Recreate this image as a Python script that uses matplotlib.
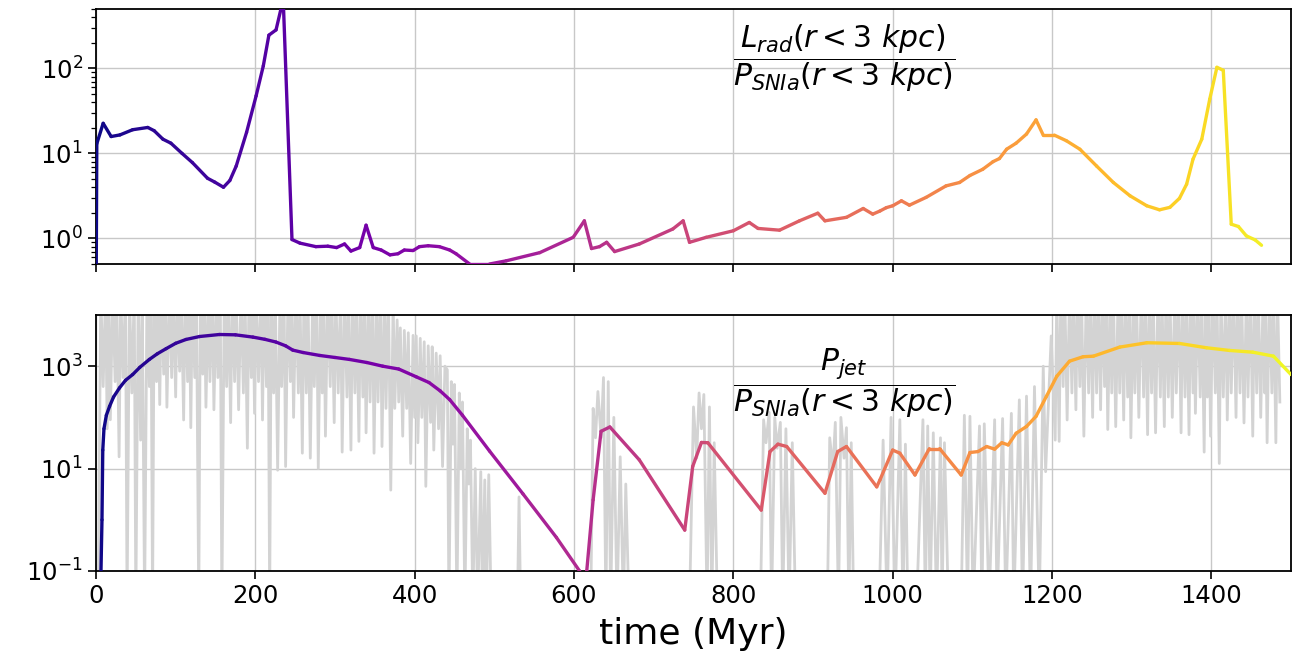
import numpy as np
import matplotlib
matplotlib.use("Agg")
import matplotlib.pyplot as plt
from matplotlib.collections import LineCollection
from matplotlib.colors import Normalize
from matplotlib.ticker import LogLocator, NullLocator, NullFormatter

# ---------------- data ----------------
# top panel: L_rad / P_SNIa (r<3 kpc)
top_t = [0, 1, 9, 19, 30, 46, 65, 73, 84, 94, 108, 121, 140, 149, 160, 168, 176, 189,
         201, 210, 217, 226, 235, 246, 256, 276, 291, 302, 312, 320, 331, 339, 348, 358,
         369, 379, 387, 398, 406, 417, 431, 444, 452, 469, 494, 515, 557, 599, 613, 622,
         632, 641, 651, 682, 724, 737, 745, 766, 800, 820, 831, 858, 883, 906, 915, 942,
         963, 975, 984, 992, 1000, 1011, 1021, 1042, 1067, 1084, 1097, 1113, 1126, 1134,
         1143, 1155, 1168, 1180, 1189, 1203, 1218, 1235, 1256, 1277, 1298, 1319, 1335,
         1348, 1360, 1369, 1377, 1388, 1398, 1407, 1415, 1425, 1434, 1444, 1455, 1463]
top_v = [0.1, 13, 22.6, 15.8, 16.5, 19, 20.2, 18.5, 14.7, 13.2, 10, 7.8, 5.1, 4.6, 4.0, 4.8,
         7.1, 17.7, 47.6, 107, 246, 284, 650, 0.97, 0.88, 0.80, 0.81, 0.78, 0.86, 0.71,
         0.78, 1.43, 0.78, 0.73, 0.64, 0.66, 0.73, 0.72, 0.80, 0.82, 0.80, 0.73, 0.66, 0.5,
         0.5, 0.545, 0.68, 1.03, 1.61, 0.76, 0.80, 0.90, 0.70, 0.86, 1.29, 1.61, 0.90, 1.03,
         1.23, 1.54, 1.31, 1.25, 1.61, 1.98, 1.61, 1.77, 2.25, 1.93, 2.1, 2.3, 2.42, 2.77,
         2.46, 3.04, 4.15, 4.55, 5.5, 6.5, 8.0, 8.7, 11.2, 13.2, 16.9, 24.8, 16.4, 16.4,
         14.1, 11.2, 7.1, 4.55, 3.17, 2.42, 2.17, 2.32, 2.96, 4.35, 8.56, 14.7, 43.5, 103,
         95, 1.47, 1.38, 1.07, 0.96, 0.83]

# bottom panel: P_jet / P_SNIa (smoothed, coloured)
bot_t = [5, 7.5, 8.5, 10, 13, 17, 22, 29.5, 37, 46, 55, 67, 77, 88, 100, 113, 130, 155,
         175, 197, 212, 226, 238, 247, 260, 281, 300, 318, 340, 360, 380, 402,
         418, 432, 444, 460, 494, 536, 578, 607, 612, 616, 624, 634, 645, 682, 739, 749,
         760, 768, 835, 846, 856, 867, 915, 931, 942, 980, 984, 1000, 1009, 1028, 1046,
         1059, 1086, 1097, 1107, 1118, 1128, 1137, 1145, 1155, 1168, 1180, 1193, 1206,
         1222, 1239, 1252, 1285, 1319, 1360, 1394, 1423, 1452, 1478, 1500]
bot_v = [0.01, 1.0, 23, 60, 110, 164, 250, 377, 530, 687, 950, 1357, 1750, 2200, 2800,
         3330, 3800, 4160, 4100, 3700, 3350, 2960, 2500, 2060, 1850, 1620, 1480, 1357, 1180,
         1000, 880, 620, 480, 330, 222, 110, 22, 3.2, 0.45, 0.1, 0.05, 0.1, 2.45, 53.5, 65,
         14.8, 0.63, 11, 32.4, 32, 1.55, 21.5, 30, 27, 3.3, 21.5, 27, 4.4, 6, 23, 20, 7.5,
         24.5, 24.5, 7.5, 20.6, 21.5, 27, 24, 32, 29, 49, 66.5, 105, 258, 636, 1254, 1530,
         1570, 2360, 2870, 2780, 2290, 2030, 1880, 1570, 687]

# bottom panel: raw P_jet / P_SNIa (grey, rapidly varying)
gray_points = [
    (3, 0.05), (6, 3e4), (9, 400), (12, 3e4), (14, 60), (16, 3e4), (18, 90), (21, 3e4),
    (24, 500), (26, 3e4), (29, 17), (31, 3e4), (34, 600), (37, 3e4), (39, 0.02), (42, 3e4),
    (45, 300), (48, 3e4), (50, 0.02), (53, 3e4), (56, 36), (58, 3e4), (61, 0.02), (64, 3e4),
    (67, 400), (69, 3e4), (71, 0.02), (73, 3e4), (76, 500), (78, 3e4), (80, 178), (82, 3e4),
    (85, 700), (87, 3e4), (89, 158), (92, 3e4), (95, 600), (97, 3e4), (100, 251), (102, 3e4),
    (105, 800), (107, 3e4), (110, 89), (112, 3e4), (115, 500), (117, 3e4), (119, 63),
    (121, 3e4), (124, 600), (126, 3e4), (129, 0.02), (131, 3e4), (134, 700), (136, 3e4),
    (138, 158), (141, 3e4), (143, 500), (146, 3e4), (148, 141), (151, 3e4), (153, 600),
    (156, 3e4), (158, 0.02), (161, 3e4), (164, 400), (166, 3e4), (169, 79), (171, 3e4),
    (174, 500), (176, 3e4), (179, 141), (182, 3e4), (185, 300), (187, 3e4), (190, 25),
    (192, 3e4), (195, 600), (197, 3e4), (199, 120), (201, 3e4), (204, 500), (207, 3e4),
    (209, 89), (211, 3e4), (214, 400), (216, 3e4), (218, 0.02), (220, 3e4), (223, 300),
    (225, 3e4), (228, 9.3), (231, 3e4), (233, 400), (236, 3e4), (238, 11), (241, 3e4),
    (244, 500), (246, 3e4), (248, 100), (251, 3e4), (254, 300), (256, 3e4), (259, 20),
    (261, 3e4), (264, 300), (266, 3e4), (269, 16), (272, 3e4), (274, 400), (277, 3e4),
    (279, 10), (282, 3e4), (284, 300), (286, 3e4), (288, 43), (291, 3e4), (294, 400),
    (296, 3e4), (299, 79), (301, 3e4), (304, 300), (307, 3e4), (309, 21), (312, 3e4),
    (315, 250), (317, 3e4), (320, 23), (322, 3e4), (325, 300), (327, 3e4), (330, 34),
    (332, 3e4), (335, 250), (337, 3e4), (339, 50), (342, 3e4), (344, 200), (347, 3e4),
    (349, 20), (352, 3e4), (354, 200), (357, 3e4), (359, 27), (362, 3e4), (364, 150),
    (367, 3e4), (370, 3.8), (373, 2e4), (375, 150), (378, 8000), (380, 200), (382, 5600),
    (385, 43), (387, 5000), (390, 150), (392, 4500), (395, 12.6), (398, 4000), (400, 100),
    (402, 3900), (404, 32), (407, 3500), (409, 100), (412, 3000), (414, 4.5), (417, 2500),
    (420, 80), (422, 2400), (424, 23), (427, 1800), (430, 60), (432, 1600), (435, 11),
    (438, 1000), (441, 850), (443, 0.02), (446, 500), (448, 30), (450, 440), (453, 0.02),
    (456, 300), (458, 10), (460, 200), (463, 0.02), (466, 60), (468, 5), (470, 36),
    (473, 0.02), (476, 10), (479, 0.02), (483, 8.7), (485, 0.02), (488, 6), (490, 0.02),
    (493, 7.6), (496, 0.02),
    (529, 0.02), (531, 2.8), (533, 0.02),
    (621, 0.02), (624, 150), (627, 40), (630, 320), (634, 40), (637, 600), (640, 0.02),
    (643, 500), (646, 0.02), (650, 100), (654, 0.02), (658, 17), (662, 0.02), (665, 5),
    (669, 0.02),
    (745, 0.02), (750, 160), (754, 16), (757, 300), (760, 60), (763, 280), (767, 0.02),
    (770, 160), (773, 0.02), (776, 32), (780, 0.02),
    (834, 0.02), (838, 90), (841, 32), (845, 125), (848, 0.02), (852, 100), (855, 25),
    (859, 80), (862, 0.02), (866, 60), (870, 0.02), (874, 32), (878, 0.02),
    (918, 0.02), (921, 40), (925, 10), (928, 80), (932, 0.02), (935, 100), (939, 16),
    (942, 63), (945, 0.02), (948, 32), (951, 0.02),
    (983, 0.02), (988, 36), (993, 0.02), (998, 100), (1003, 0.02), (1009, 90), (1013, 0.02),
    (1016, 30), (1019, 0.02),
    (1030, 0.02), (1038, 90), (1041, 0.02), (1044, 68), (1047, 0.02), (1051, 50),
    (1055, 0.02), (1060, 40), (1062, 0.02), (1065, 32), (1070, 0.02),
    (1086, 0.02), (1090, 110), (1094, 0.02), (1097, 105), (1101, 0.02), (1109, 68),
    (1112, 0.02), (1115, 75), (1121, 0.02), (1128, 90), (1131, 0.02), (1138, 95),
    (1142, 0.02), (1149, 120), (1152, 0.02), (1159, 220), (1163, 0.02), (1168, 260),
    (1173, 0.02), (1178, 400), (1184, 0.02), (1189, 1000), (1192, 8.7), (1199, 3900),
    (1204, 36), (1206, 3e4), (1209, 34), (1211, 3e4), (1214, 400), (1216, 3e4), (1219, 89),
    (1222, 3e4), (1225, 300), (1227, 3e4), (1230, 141), (1232, 3e4), (1235, 400),
    (1237, 3e4), (1240, 43), (1243, 3e4), (1246, 300), (1248, 3e4), (1251, 100),
    (1253, 3e4), (1256, 300), (1258, 3e4), (1261, 141), (1263, 3e4), (1266, 400),
    (1268, 3e4), (1270, 58), (1273, 3e4), (1275, 300), (1277, 3e4), (1280, 66), (1283, 3e4),
    (1285, 300), (1287, 3e4), (1290, 89), (1292, 3e4), (1295, 250), (1297, 3e4), (1299, 40),
    (1302, 3e4), (1304, 300), (1306, 3e4), (1309, 100), (1312, 3e4), (1315, 250),
    (1317, 3e4), (1320, 46), (1322, 3e4), (1325, 300), (1327, 3e4), (1330, 50), (1333, 3e4),
    (1336, 250), (1338, 3e4), (1341, 66), (1343, 3e4), (1346, 250), (1348, 3e4), (1351, 100),
    (1354, 3e4), (1356, 300), (1359, 3e4), (1362, 50), (1364, 3e4), (1367, 250), (1369, 3e4),
    (1372, 46), (1374, 3e4), (1377, 300), (1378, 3e4), (1380, 120), (1383, 3e4), (1386, 250),
    (1388, 3e4), (1391, 21), (1393, 3e4), (1395, 250), (1397, 3e4), (1399, 43), (1402, 3e4),
    (1405, 300), (1407, 3e4), (1410, 12.6), (1412, 3e4), (1415, 250), (1418, 3e4), (1420, 89),
    (1423, 3e4), (1425, 300), (1428, 3e4), (1431, 100), (1433, 3e4), (1436, 300), (1438, 3e4),
    (1441, 78), (1444, 3e4), (1446, 250), (1449, 3e4), (1452, 43), (1454, 3e4), (1457, 300),
    (1459, 3e4), (1462, 100), (1465, 3e4), (1467, 300), (1468, 3e4), (1470, 32), (1473, 3e4),
    (1476, 300), (1478, 3e4), (1481, 32), (1483, 3e4), (1486, 200),
]
gray_t = [p[0] for p in gray_points]
gray_v = [p[1] for p in gray_points]

xticks = [0, 200, 400, 600, 800, 1000, 1200, 1400]
top_label = r'$\dfrac{L_{rad}(r<3\ kpc)}{P_{SNIa}(r<3\ kpc)}$'
bot_label = r'$\dfrac{P_{jet}}{P_{SNIa}(r<3\ kpc)}$'
xlabel = 'time (Myr)'

# ---------------- figure ----------------
W, H = 1298, 659
fig = plt.figure(figsize=(W / 100, H / 100), dpi=100)
ax1 = fig.add_axes([96 / W, 1 - 264 / H, (1291 - 96) / W, (264 - 9) / H])
ax2 = fig.add_axes([96 / W, 1 - 571 / H, (1291 - 96) / W, (571 - 315) / H])

cmap = plt.get_cmap('plasma')
norm = Normalize(0, 1500)


def colored_line(ax, t, v, lw=2.4):
    t = np.asarray(t, float)
    v = np.asarray(v, float)
    pts = np.column_stack([t, v]).reshape(-1, 1, 2)
    segs = np.concatenate([pts[:-1], pts[1:]], axis=1)
    mids = 0.5 * (t[:-1] + t[1:])
    lc = LineCollection(segs, colors=cmap(norm(mids)), linewidths=lw,
                        capstyle='round', joinstyle='round', zorder=3)
    ax.add_collection(lc)


for ax in (ax1, ax2):
    ax.set_yscale('log')
    ax.set_xlim(0, 1500)
    ax.set_xticks(xticks)
    ax.grid(True, which='major', color='#c8c8c8', linewidth=1.0)
    ax.set_axisbelow(True)
    for s in ax.spines.values():
        s.set_linewidth(1.3)
    ax.tick_params(axis='both', which='major', labelsize=17.5, length=6, width=1.2)
    ax.tick_params(axis='both', which='minor', length=3.5, width=0.9)

# top panel
colored_line(ax1, top_t, top_v)
ax1.set_ylim(0.5, 500)
ax1.yaxis.set_major_locator(LogLocator(base=10, numticks=10))
ax1.yaxis.set_minor_locator(LogLocator(base=10, subs=np.arange(2, 10), numticks=10))
ax1.yaxis.set_minor_formatter(NullFormatter())
ax1.tick_params(axis='x', labelbottom=False)
ax1.text(0.626, 0.805, top_label, transform=ax1.transAxes, ha='center', va='center',
         fontsize=21.5)

# bottom panel
ax2.plot(gray_t, gray_v, color='#d3d3d3', lw=2.0, zorder=2)
colored_line(ax2, bot_t, bot_v)
ax2.set_ylim(0.1, 1e4)
ax2.set_yticks([0.1, 10, 1000])
ax2.yaxis.set_minor_locator(NullLocator())
ax2.text(0.626, 0.735, bot_label, transform=ax2.transAxes, ha='center', va='center',
         fontsize=21.5)
ax2.set_xlabel(xlabel, fontsize=26, labelpad=6)

fig.savefig('out.png', dpi=100)
